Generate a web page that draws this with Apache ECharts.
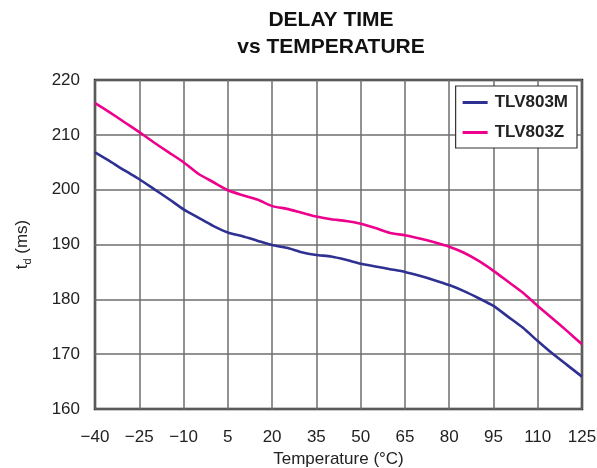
<!DOCTYPE html>
<html>
<head>
<meta charset="utf-8">
<script src="https://cdn.jsdelivr.net/npm/echarts@6/dist/echarts.min.js"></script>
<style>
html,body{margin:0;padding:0;background:#fff;}
#c{width:597px;height:468px;}
</style>
</head>
<body>
<div id="c"></div>
<script>
var temps = [-40,-35,-30,-25,-20,-15,-10,-5,0,5,10,15,20,25,30,35,40,45,50,55,60,65,70,75,80,85,90,95,100,105,110,115,120,125];
var tlv803m = [206.8,205.2,203.5,201.9,200.1,198.3,196.4,194.9,193.4,192.2,191.5,190.7,189.9,189.4,188.6,188.1,187.8,187.2,186.5,186.0,185.5,185.0,184.3,183.5,182.6,181.5,180.2,178.8,176.8,174.8,172.4,170.1,168.0,165.9];
var tlv803z = [215.8,214.1,212.3,210.5,208.6,206.8,205.0,202.9,201.4,199.9,199.0,198.2,197.0,196.5,195.8,195.1,194.6,194.3,193.8,193.0,192.1,191.7,191.1,190.4,189.6,188.5,187.0,185.2,183.2,181.2,178.8,176.5,174.2,171.8];
var xTicks = [-40,-25,-10,5,20,35,50,65,80,95,110,125];
var yTicks = [160,170,180,190,200,210,220];
var seriesNames = ['TLV803M','TLV803Z'];

function pairs(xs, ys){ return xs.map(function(x,i){ return [x, ys[i]]; }); }

var font = 'Liberation Sans, Arial, Helvetica, sans-serif';
var chart = echarts.init(document.getElementById('c'), null, {renderer:'canvas'});
chart.setOption({
  animation: false,
  backgroundColor: '#fff',
  title: {
    text: 'DELAY TIME\nvs TEMPERATURE',
    left: 326, top: 2, textAlign: 'center',
    textStyle: {fontFamily: font, fontSize: 21, fontWeight: 'bold', color: '#111', lineHeight: 27}
  },
  legend: {
    orient: 'vertical', right: 20, top: 86,
    data: seriesNames,
    icon: 'rect', itemWidth: 25, itemHeight: 3, itemGap: 13,
    padding: [8, 9, 7, 7],
    backgroundColor: '#fff', borderColor: '#333', borderWidth: 1.2,
    textStyle: {fontFamily: font, fontSize: 17, fontWeight: 'bold', color: '#222', padding: [0,0,0,2]}
  },
  grid: {left: 95, right: 15, top: 80, bottom: 59, outerBoundsMode: 'none', containLabel: false,
    show: true, borderColor: '#222', borderWidth: 2.5, backgroundColor: 'transparent'},
  xAxis: {
    type: 'value', min: -40, max: 125,
    name: 'Temperature (°C)', nameLocation: 'middle', nameGap: 41,
    nameTextStyle: {fontFamily: font, fontSize: 17, color: '#222'},
    axisLine: {show: false}, axisTick: {show: false, customValues: xTicks},
    axisLabel: {customValues: xTicks, fontFamily: font, fontSize: 17, color: '#222', margin: 20,
      formatter: function(v){ return v < 0 ? '\u2212' + Math.abs(v) : String(v); }},
    splitLine: {show: true, lineStyle: {color: '#6e6e6e', width: 1.5}}
  },
  yAxis: {
    type: 'value', min: 160, max: 220, interval: 10,
    name: '{a|t}{b|d}{a| (ms)}', nameLocation: 'middle', nameGap: 62,
    nameTextStyle: {rich: {
      a: {fontFamily: font, fontSize: 17, color: '#222', lineHeight: 22},
      b: {fontFamily: font, fontSize: 11, color: '#222', lineHeight: 22, verticalAlign: 'bottom', padding: [9,0,0,0]}
    }},
    axisLine: {show: false}, axisTick: {show: false},
    axisLabel: {fontFamily: font, fontSize: 17, color: '#222', margin: 15},
    splitLine: {show: true, lineStyle: {color: '#6e6e6e', width: 1.5}}
  },
  series: [
    {name: seriesNames[0], type: 'line', data: pairs(temps, tlv803m), showSymbol: false, smooth: 0.2,
     lineStyle: {color: '#2e3192', width: 2.6}, itemStyle: {color: '#2e3192'}},
    {name: seriesNames[1], type: 'line', data: pairs(temps, tlv803z), showSymbol: false, smooth: 0.2,
     lineStyle: {color: '#ec008c', width: 2.6}, itemStyle: {color: '#ec008c'}}
  ]
});
</script>
</body>
</html>
